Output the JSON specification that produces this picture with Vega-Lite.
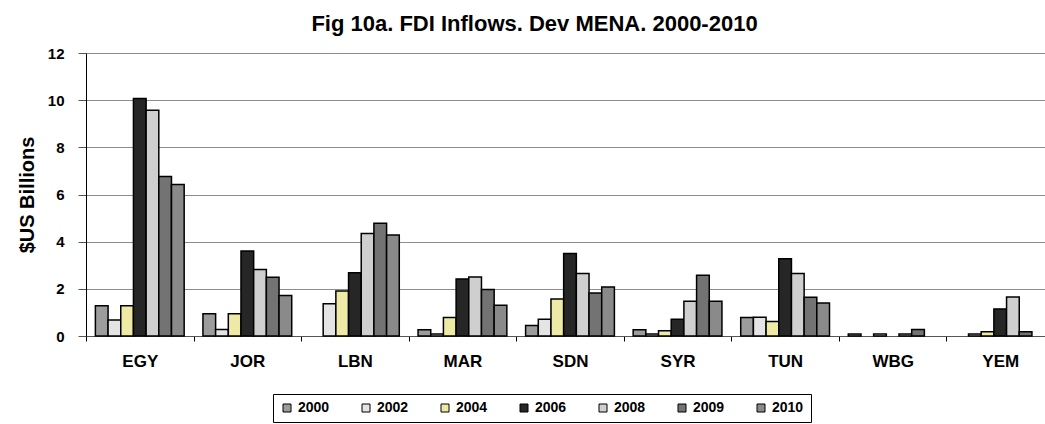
{
  "$schema": "https://vega.github.io/schema/vega-lite/v6.json",
  "autosize": {"type": "none"},
  "width": 955,
  "height": 283,
  "padding": {"left": 86, "top": 53, "right": 4, "bottom": 88},
  "background": "white",
  "title": {"text": "Fig 10a. FDI Inflows. Dev MENA. 2000-2010", "fontSize": 22, "font": "Liberation Sans", "fontWeight": "bold", "anchor": "middle", "dx": -29, "offset": 10, "color": "black"},
  "data": {"values": [
    {"country": "EGY", "year": "2000", "value": 1.28},
    {"country": "EGY", "year": "2002", "value": 0.68},
    {"country": "EGY", "year": "2004", "value": 1.28},
    {"country": "EGY", "year": "2006", "value": 10.07},
    {"country": "EGY", "year": "2008", "value": 9.57},
    {"country": "EGY", "year": "2009", "value": 6.76},
    {"country": "EGY", "year": "2010", "value": 6.42},
    {"country": "JOR", "year": "2000", "value": 0.94},
    {"country": "JOR", "year": "2002", "value": 0.28},
    {"country": "JOR", "year": "2004", "value": 0.94},
    {"country": "JOR", "year": "2006", "value": 3.6},
    {"country": "JOR", "year": "2008", "value": 2.82},
    {"country": "JOR", "year": "2009", "value": 2.49},
    {"country": "JOR", "year": "2010", "value": 1.72},
    {"country": "LBN", "year": "2002", "value": 1.37},
    {"country": "LBN", "year": "2004", "value": 1.91},
    {"country": "LBN", "year": "2006", "value": 2.68},
    {"country": "LBN", "year": "2008", "value": 4.35},
    {"country": "LBN", "year": "2009", "value": 4.78},
    {"country": "LBN", "year": "2010", "value": 4.28},
    {"country": "MAR", "year": "2000", "value": 0.26},
    {"country": "MAR", "year": "2002", "value": 0.08},
    {"country": "MAR", "year": "2004", "value": 0.78},
    {"country": "MAR", "year": "2006", "value": 2.42},
    {"country": "MAR", "year": "2008", "value": 2.5},
    {"country": "MAR", "year": "2009", "value": 1.97},
    {"country": "MAR", "year": "2010", "value": 1.3},
    {"country": "SDN", "year": "2000", "value": 0.44},
    {"country": "SDN", "year": "2002", "value": 0.71},
    {"country": "SDN", "year": "2004", "value": 1.57},
    {"country": "SDN", "year": "2006", "value": 3.5},
    {"country": "SDN", "year": "2008", "value": 2.65},
    {"country": "SDN", "year": "2009", "value": 1.82},
    {"country": "SDN", "year": "2010", "value": 2.08},
    {"country": "SYR", "year": "2000", "value": 0.26},
    {"country": "SYR", "year": "2002", "value": 0.08},
    {"country": "SYR", "year": "2004", "value": 0.22},
    {"country": "SYR", "year": "2006", "value": 0.71},
    {"country": "SYR", "year": "2008", "value": 1.47},
    {"country": "SYR", "year": "2009", "value": 2.58},
    {"country": "SYR", "year": "2010", "value": 1.47},
    {"country": "TUN", "year": "2000", "value": 0.78},
    {"country": "TUN", "year": "2002", "value": 0.79},
    {"country": "TUN", "year": "2004", "value": 0.61},
    {"country": "TUN", "year": "2006", "value": 3.28},
    {"country": "TUN", "year": "2008", "value": 2.65},
    {"country": "TUN", "year": "2009", "value": 1.64},
    {"country": "TUN", "year": "2010", "value": 1.4},
    {"country": "WBG", "year": "2000", "value": 0.08},
    {"country": "WBG", "year": "2004", "value": 0.08},
    {"country": "WBG", "year": "2008", "value": 0.08},
    {"country": "WBG", "year": "2009", "value": 0.28},
    {"country": "YEM", "year": "2002", "value": 0.08},
    {"country": "YEM", "year": "2004", "value": 0.18},
    {"country": "YEM", "year": "2006", "value": 1.15},
    {"country": "YEM", "year": "2008", "value": 1.65},
    {"country": "YEM", "year": "2009", "value": 0.18}
  ]},
  "mark": {"type": "bar", "stroke": "black", "strokeWidth": 1.5},
  "encoding": {
    "x": {
      "field": "country", "type": "nominal", "sort": null,
      "scale": {"range": [0, 968], "paddingInner": 0, "paddingOuter": 0},
      "axis": {"title": null, "labelAngle": 0, "labelFont": "Liberation Sans", "labelFontSize": 17, "labelFontWeight": "bold", "labelColor": "black", "labelPadding": 12, "tickBand": "extent", "tickSize": 5, "tickColor": "black", "domainColor": "#555555", "grid": false}
    },
    "xOffset": {"field": "year", "type": "nominal", "scale": {"paddingInner": 0, "paddingOuter": 0.74}},
    "y": {
      "field": "value", "type": "quantitative",
      "scale": {"domain": [0, 12], "nice": false},
      "axis": {"title": "$US Billions", "values": [0, 2, 4, 6, 8, 10, 12], "titleFont": "Liberation Sans", "titleFontSize": 20, "titleFontWeight": "bold", "titleColor": "black", "titlePadding": 10, "labelFont": "Liberation Sans", "labelFontSize": 15, "labelFontWeight": "bold", "labelColor": "black", "labelPadding": 14, "tickSize": 8, "tickColor": "#555555", "domainColor": "black", "gridColor": "#8c8c8c"}
    },
    "color": {
      "field": "year", "type": "nominal",
      "scale": {"domain": ["2000", "2002", "2004", "2006", "2008", "2009", "2010"], "range": ["#9c9c9c", "#e4e4e4", "#efe9a6", "#262626", "#cfcfcf", "#737373", "#8a8a8a"]},
      "legend": {"title": null, "orient": "none", "legendX": 187, "legendY": 341, "direction": "horizontal", "symbolType": "square", "symbolSize": 64, "symbolStrokeColor": "black", "symbolStrokeWidth": 1, "labelFont": "Liberation Sans", "labelFontSize": 14, "labelFontWeight": "bold", "labelColor": "black", "labelOffset": 4, "columnPadding": 29, "strokeColor": "black", "fillColor": "white", "padding": 7}
    }
  },
  "config": {"view": {"stroke": null}}
}
